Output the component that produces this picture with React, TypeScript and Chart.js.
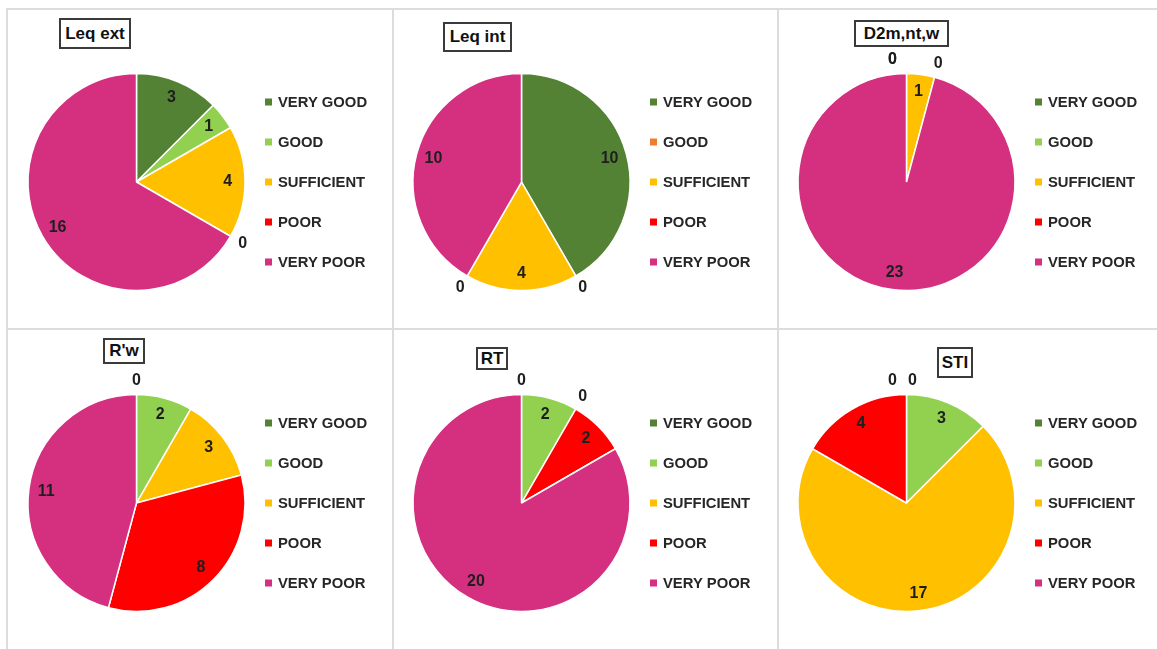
import React, { useEffect, useRef } from "react";
import { Chart, registerables } from "chart.js";

Chart.register(...registerables);

// ---------- DATA ----------
const categories = ["VERY GOOD", "GOOD", "SUFFICIENT", "POOR", "VERY POOR"];
const chartTitles = ["Leq ext", "Leq int", "D2m,nt,w", "R'w", "RT", "STI"];
const leqExt = [3, 1, 4, 0, 16];
const leqInt = [10, 0, 4, 0, 10];
const d2m = [0, 0, 1, 0, 23];
const rw = [0, 2, 3, 8, 11];
const rt = [0, 2, 0, 2, 20];
const sti = [0, 3, 17, 4, 0];
const seriesList = [leqExt, leqInt, d2m, rw, rt, sti];

// ---------- STYLE ----------
const baseColors = ["#548235", "#92D050", "#FFC000", "#FF0000", "#D4307F"];
const leqIntColors = ["#548235", "#ED7D31", "#FFC000", "#FF0000", "#D4307F"];
const paletteList = [baseColors, leqIntColors, baseColors, baseColors, baseColors, baseColors];

const FONT = "'Liberation Sans', Arial, sans-serif";
const colX = [8, 394, 779];
const colW = [384, 383, 378];
const rowY = [10, 330];
const rowH = [318, 319];
const pieCX = [136.5, 521.5, 906.5];
const pieCY = [182, 503];
const R = 108.5;
const BW = 1.5;
const titleBoxes = [
  { l: 59, t: 18, w: 72, h: 31 },
  { l: 443, t: 22, w: 69, h: 30 },
  { l: 854, t: 20, w: 95, h: 27 },
  { l: 103, t: 338, w: 42, h: 26 },
  { l: 476, t: 347, w: 32, h: 23 },
  { l: 937, t: 347, w: 36, h: 31 },
];

const decorPlugin = {
  id: "pieDecor",
  afterDatasetsDraw(chart: any) {
    const ctx = chart.ctx;
    const meta = chart.getDatasetMeta(0);
    const ds = chart.data.datasets[0];
    const vals: number[] = ds.data;
    const TWO_PI = Math.PI * 2;
    const props = meta.data.map((arc: any) =>
      arc.getProps(["x", "y", "startAngle", "endAngle", "outerRadius"], true)
    );
    const rel = (a: number) => a + Math.PI / 2;
    const startZeros: number[] = [];
    const endZeros: number[] = [];
    vals.forEach((v, i) => {
      if (v === 0) {
        const a = rel(props[i].startAngle);
        if (a < 1e-6) startZeros.push(i);
        else if (a > TWO_PI - 1e-6) endZeros.push(i);
      }
    });
    ctx.save();
    ctx.font = `bold 16px ${FONT}`;
    ctx.fillStyle = "#1E1E1E";
    ctx.textAlign = "center";
    ctx.textBaseline = "middle";
    vals.forEach((v, i) => {
      const p = props[i];
      const mid = (p.startAngle + p.endAngle) / 2;
      let r: number;
      let dx = 0;
      if (v > 0) {
        r = p.outerRadius * 0.84;
      } else {
        r = p.outerRadius + 14;
        if (endZeros.length > 0) {
          if (startZeros.includes(i)) dx = 6;
          if (endZeros.includes(i)) dx = -14;
        } else if (startZeros.length > 1 && startZeros.includes(i)) {
          dx = -14;
        }
      }
      ctx.fillText(String(v), p.x + Math.cos(mid) * r + dx, p.y + Math.sin(mid) * r);
    });
    // legend
    const cx = props[0].x;
    const cy = props[0].y;
    ctx.font = `bold 14.8px ${FONT}`;
    ctx.textAlign = "left";
    (chart.data.labels as string[]).forEach((lab, i) => {
      const yy = cy - 80 + 40 * i;
      ctx.fillStyle = ds.backgroundColor[i];
      ctx.fillRect(cx + 128.5, yy - 3.5, 7, 7);
      ctx.fillStyle = "#262626";
      ctx.fillText(lab, cx + 141.5, yy + 0.5);
    });
    ctx.restore();
  },
};

function PieCell({ idx }: { idx: number }) {
  const ref = useRef<HTMLCanvasElement>(null);
  const col = idx % 3;
  const row = Math.floor(idx / 3);
  const x0 = colX[col];
  const y0 = rowY[row];
  const W = colW[col];
  const H = rowH[row];
  useEffect(() => {
    if (!ref.current) return;
    const side = 2 * R + BW;
    const left = pieCX[col] - x0 - side / 2;
    const top = pieCY[row] - y0 - side / 2;
    const chart = new Chart(ref.current, {
      type: "pie",
      data: {
        labels: categories,
        datasets: [
          {
            data: seriesList[idx],
            backgroundColor: paletteList[idx],
            borderColor: "#FFFFFF",
            borderWidth: BW,
            hoverOffset: 0,
          },
        ],
      },
      options: {
        responsive: false,
        animation: false,
        devicePixelRatio: 1,
        layout: {
          padding: { left, top, right: W - left - side, bottom: H - top - side },
        },
        plugins: {
          legend: { display: false },
          tooltip: { enabled: false },
          title: { display: false },
        },
      },
      plugins: [decorPlugin],
    });
    return () => chart.destroy();
  }, [idx]);
  return (
    <canvas
      ref={ref}
      width={W}
      height={H}
      style={{ position: "absolute", left: x0, top: y0, width: W, height: H }}
    />
  );
}

export default function App() {
  const lineColor = "#DCDCDC";
  return (
    <div
      style={{
        position: "absolute",
        left: 0,
        top: 0,
        width: 1157,
        height: 649,
        background: "#FFFFFF",
        overflow: "hidden",
        fontFamily: FONT,
      }}
    >
      {[0, 1, 2, 3, 4, 5].map((i) => (
        <PieCell key={i} idx={i} />
      ))}
      {/* grid lines */}
      <div style={{ position: "absolute", left: 6, top: 8, width: 1160, height: 2, background: lineColor }} />
      <div style={{ position: "absolute", left: 6, top: 328, width: 1160, height: 2, background: lineColor }} />
      <div style={{ position: "absolute", left: 6, top: 8, width: 2, height: 650, background: lineColor }} />
      <div style={{ position: "absolute", left: 392, top: 8, width: 2, height: 650, background: lineColor }} />
      <div style={{ position: "absolute", left: 777, top: 8, width: 2, height: 650, background: lineColor }} />
      {chartTitles.map((t, i) => {
        const b = titleBoxes[i];
        return (
          <div
            key={t}
            style={{
              position: "absolute",
              left: b.l,
              top: b.t,
              width: b.w,
              height: b.h,
              boxSizing: "border-box",
              border: "2px solid #3A3A3A",
              display: "flex",
              alignItems: "center",
              justifyContent: "center",
              fontWeight: "bold",
              fontSize: 17,
              color: "#111111",
              background: "#FFFFFF",
              whiteSpace: "nowrap",
            }}
          >
            {t}
          </div>
        );
      })}
    </div>
  );
}
